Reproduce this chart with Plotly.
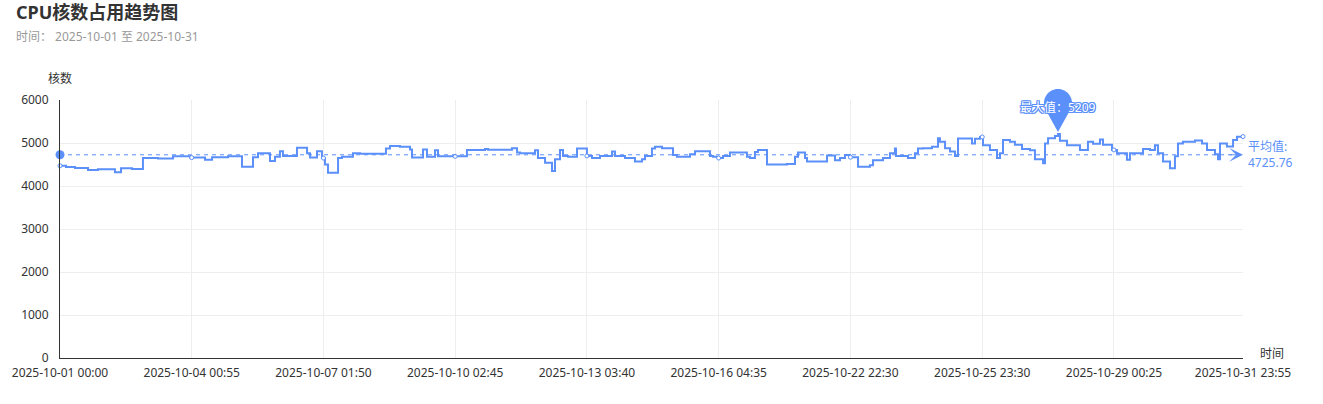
import math
import plotly.graph_objects as go

# ---------------- data ----------------
tick_steps = [0, 875, 1750, 2625, 3500, 4375, 5250, 6126, 7001, 7858]
tick_labels = ["2025-10-01 00:00", "2025-10-04 00:55", "2025-10-07 01:50", "2025-10-10 02:45",
               "2025-10-13 03:40", "2025-10-16 04:35", "2025-10-22 22:30", "2025-10-25 23:30",
               "2025-10-29 00:25", "2025-10-31 23:55"]

# step index (5-minute sample number) where the core count changes, and the new value
change_steps = [0, 40, 100, 186, 252, 365, 405, 478, 551, 651, 751, 864, 963, 1010, 1116, 1209,
                1282, 1315, 1395, 1428, 1461, 1481, 1574, 1641, 1661, 1707, 1740, 1760, 1780, 1847,
                1873, 1946, 1993, 2165, 2192, 2258, 2325, 2338, 2411, 2438, 2491, 2511, 2703, 2823,
                2843, 3002, 3036, 3056, 3155, 3175, 3222, 3268, 3288, 3321, 3341, 3374, 3434, 3500,
                3534, 3587, 3667, 3687, 3753, 3819, 3866, 3886, 3932, 3952, 3999, 4072, 4098, 4185,
                4218, 4318, 4338, 4371, 4404, 4450, 4563, 4583, 4616, 4636, 4696, 4829, 4882, 4902,
                4949, 4962, 5095, 5148, 5181, 5214, 5247, 5301, 5380, 5400, 5467, 5513, 5546, 5553,
                5633, 5679, 5699, 5732, 5792, 5832, 5845, 5879, 5912, 5945, 5965, 6058, 6078, 6111,
                6131, 6177, 6224, 6244, 6264, 6310, 6343, 6390, 6443, 6476, 6530, 6543, 6563, 6609,
                6629, 6642, 6689, 6775, 6828, 6862, 6908, 6928, 6988, 7021, 7087, 7107, 7194, 7240,
                7273, 7293, 7327, 7373, 7406, 7426, 7459, 7539, 7586, 7619, 7672, 7692, 7705, 7751,
                7792, 7818, 7858]
cores = [4470, 4440, 4420, 4372, 4390, 4318, 4410, 4395, 4650, 4640, 4690, 4660, 4610, 4670, 4690,
         4450, 4670, 4760, 4580, 4680, 4810, 4700, 4890, 4760, 4660, 4810, 4650, 4500, 4310, 4650,
         4680, 4760, 4750, 4870, 4930, 4910, 4850, 4660, 4850, 4680, 4830, 4690, 4840, 4860, 4845,
         4880, 4780, 4760, 4830, 4650, 4540, 4350, 4620, 4840, 4700, 4680, 4870, 4700, 4650, 4700,
         4800, 4700, 4650, 4570, 4620, 4700, 4870, 4910, 4880, 4720, 4680, 4740, 4810, 4700, 4680,
         4650, 4700, 4780, 4680, 4650, 4790, 4840, 4500, 4510, 4680, 4780, 4650, 4570, 4710, 4600,
         4650, 4720, 4670, 4450, 4480, 4600, 4650, 4760, 4870, 4700, 4650, 4760, 4870, 4880, 4910,
         5110, 5030, 4880, 4800, 4700, 5105, 4990, 5100, 5140, 4950, 4840, 4650, 4760, 5070, 5030,
         4960, 4860, 4830, 4620, 4530, 4990, 5110, 5160, 5209, 5050, 4950, 4840, 5030, 4980, 5080,
         4960, 4840, 4760, 4610, 4760, 4860, 4840, 4950, 4760, 4570, 4411, 4690, 4990, 5030, 5060,
         4990, 4840, 4740, 4620, 4990, 4920, 5070, 5147, 5150]

avg_value = 4725.76
y_ticks = [0, 1000, 2000, 3000, 4000, 5000, 6000]
y_max = 6000

# ---------------- style ----------------
BLUE = "#5B8FF9"
FONT = "Noto Sans, Noto Sans CJK SC, sans-serif"
W, H = 1323, 404
L, R, T, B = 60, 80, 100, 46
PW, PH = W - L - R, H - T - B


def px_x(px):                 # page pixel -> paper x
    return (px - L) / PW


def px_y(py):                 # page pixel -> paper y
    return (T + PH - py) / PH


max_val = max(cores)
max_step = change_steps[cores.index(max_val)]


def value_at(step):
    v = cores[0]
    for s, c in zip(change_steps, cores):
        if s <= step:
            v = c
    return v


fig = go.Figure()

fig.add_trace(go.Scatter(
    x=change_steps, y=cores, mode="lines", line=dict(color=BLUE, width=2, shape="hv"),
    hoverinfo="skip", showlegend=False))

# symbols at label intervals
fig.add_trace(go.Scatter(
    x=tick_steps, y=[value_at(s) for s in tick_steps], mode="markers",
    marker=dict(size=4, color="white", line=dict(color=BLUE, width=1)),
    hoverinfo="skip", showlegend=False, cliponaxis=False))

# average mark line
fig.add_trace(go.Scatter(
    x=[tick_steps[0], tick_steps[-1]], y=[avg_value, avg_value], mode="lines",
    line=dict(color=BLUE, width=1, dash="4px,4px"), hoverinfo="skip", showlegend=False))
fig.add_trace(go.Scatter(
    x=[tick_steps[0]], y=[avg_value], mode="markers", marker=dict(size=9, color=BLUE),
    hoverinfo="skip", showlegend=False, cliponaxis=False))

# max pin shape (pixel sized, anchored on the max point)
r, cy, tip = 14, 31, 2
d = cy - tip
th = math.acos(r / d)
a0 = math.atan2(-(r * math.cos(th)), r * math.sin(th))
a1 = math.pi - a0
pts = [(0, tip)]
n = 40
for k in range(n + 1):
    a = a0 + (a1 - a0) * k / n
    pts.append((r * math.cos(a), cy + r * math.sin(a)))
path = "M " + " L ".join(f"{x:.2f},{y:.2f}" for x, y in pts) + " Z"
fig.add_shape(type="path", xref="x", yref="paper", xsizemode="pixel", ysizemode="pixel",
              xanchor=max_step, yanchor=max_val / y_max, path=path,
              fillcolor=BLUE, line=dict(width=0), layer="above")

shadow = ", ".join(f"{dx}px {dy}px 0 {BLUE}" for dx in (-1, 0, 1) for dy in (-1, 0, 1))
annotations = [
    dict(x=max_step, y=max_val, xref="x", yref="y", text=f"最大值：{max_val}", showarrow=False,
         yshift=cy - 4, font=dict(family=FONT, size=12, color="white", shadow=shadow),
         xanchor="center", yanchor="middle"),
    dict(x=tick_steps[-1], y=avg_value, xref="x", yref="y", text=f"平均值:<br>{avg_value}",
         showarrow=False, xanchor="left", yanchor="middle", xshift=3, align="left",
         font=dict(family=FONT, size=12, color=BLUE)),
    dict(x=tick_steps[-1], y=avg_value, xref="x", yref="y", ax=-15, ay=0, axref="pixel",
         ayref="pixel", showarrow=True, arrowhead=3, arrowsize=2.3, arrowwidth=1,
         arrowcolor=BLUE, text="", standoff=0),
    dict(x=px_x(14), y=px_y(12), xref="paper", yref="paper", text="<b>CPU核数占用趋势图</b>",
         showarrow=False, xanchor="left", yanchor="middle",
         font=dict(family=FONT, size=18, color="#333333")),
    dict(x=px_x(14), y=px_y(36), xref="paper", yref="paper", text="时间：&nbsp;2025-10-01 至 2025-10-31",
         showarrow=False, xanchor="left", yanchor="middle",
         font=dict(family=FONT, size=12, color="#999999")),
    dict(x=px_x(60), y=px_y(78), xref="paper", yref="paper", text="核数", showarrow=False,
         xanchor="center", yanchor="middle", font=dict(family=FONT, size=12, color="#333333")),
    dict(x=px_x(1258), y=px_y(353), xref="paper", yref="paper", text="时间", showarrow=False,
         xanchor="left", yanchor="middle", font=dict(family=FONT, size=12, color="#333333")),
]

fig.update_layout(
    width=W, height=H, margin=dict(l=L, r=R, t=T, b=B, autoexpand=False),
    paper_bgcolor="white", plot_bgcolor="white",
    font=dict(family=FONT, size=12, color="#333333"),
    annotations=annotations, showlegend=False,
    xaxis=dict(range=[tick_steps[0], tick_steps[-1]], tickmode="array", tickvals=tick_steps,
               ticktext=tick_labels, showgrid=True, gridcolor="#eeeeee", gridwidth=1,
               showline=True, linecolor="#333333", linewidth=1, ticks="", zeroline=False,
               tickfont=dict(family=FONT, size=12, color="#333333"), ticklabelstandoff=4),
    yaxis=dict(range=[0, y_max], tickmode="array", tickvals=y_ticks, showgrid=True,
               gridcolor="#eeeeee", gridwidth=1, showline=True, linecolor="#333333", linewidth=1,
               ticks="", zeroline=False, ticklabelstandoff=8,
               tickfont=dict(family=FONT, size=12, color="#333333")),
)

fig.write_html("out.html", config={"displayModeBar": False},
               post_script="document.body.style.margin='0';document.body.style.overflow='hidden';")
